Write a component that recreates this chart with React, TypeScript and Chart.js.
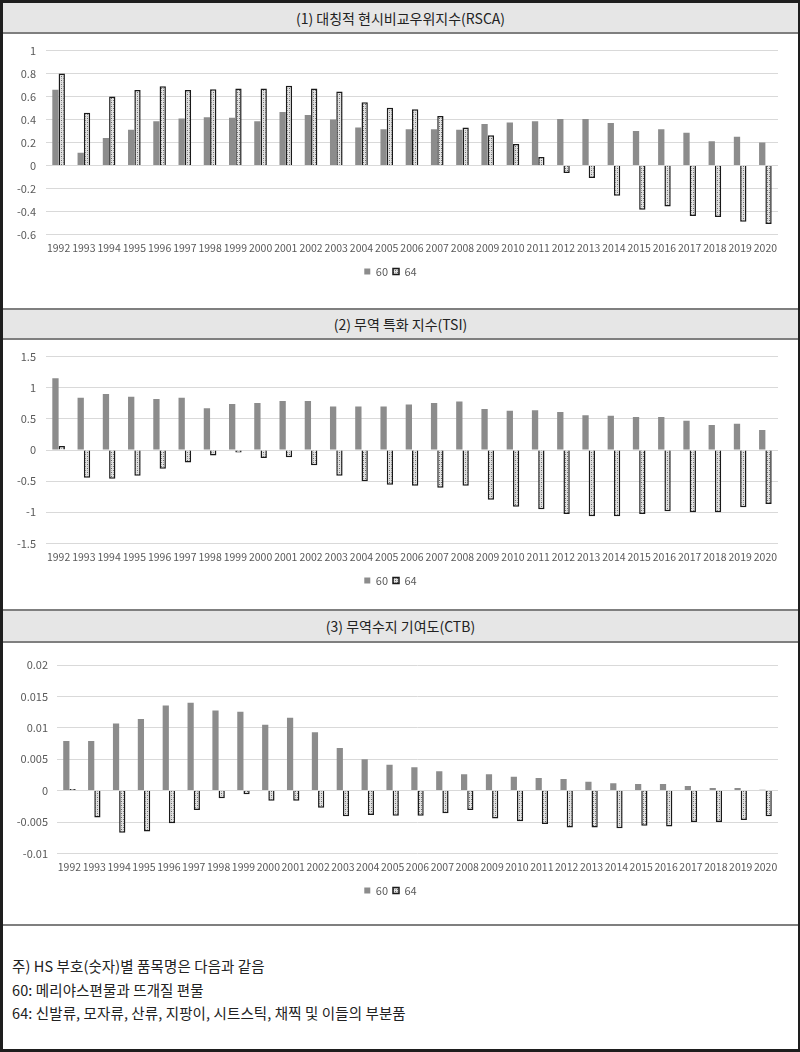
import React, { useEffect, useRef } from 'react';
import { Chart, registerables } from 'chart.js';

Chart.register(...registerables);

const years = [
  '1992', '1993', '1994', '1995', '1996', '1997', '1998', '1999', '2000', '2001',
  '2002', '2003', '2004', '2005', '2006', '2007', '2008', '2009', '2010', '2011',
  '2012', '2013', '2014', '2015', '2016', '2017', '2018', '2019', '2020',
];

const seriesLabels = ['60', '64'];

const rsca60 = [0.66, 0.11, 0.24, 0.31, 0.385, 0.41, 0.42, 0.415, 0.385, 0.465, 0.44, 0.4, 0.33, 0.315, 0.315, 0.315, 0.31, 0.36, 0.375, 0.385, 0.405, 0.405, 0.37, 0.3, 0.315, 0.285, 0.21, 0.25, 0.2];
const rsca64 = [0.8, 0.46, 0.6, 0.657, 0.69, 0.657, 0.663, 0.67, 0.67, 0.694, 0.67, 0.643, 0.55, 0.503, 0.49, 0.43, 0.33, 0.263, 0.186, 0.074, -0.066, -0.11, -0.263, -0.386, -0.357, -0.44, -0.449, -0.49, -0.51];

const tsi60 = [1.154, 0.84, 0.9, 0.856, 0.82, 0.84, 0.67, 0.74, 0.755, 0.787, 0.787, 0.7, 0.7, 0.7, 0.73, 0.755, 0.78, 0.66, 0.63, 0.64, 0.61, 0.56, 0.55, 0.53, 0.53, 0.47, 0.4, 0.42, 0.32];
const tsi64 = [0.064, -0.447, -0.46, -0.415, -0.3, -0.2, -0.09, -0.04, -0.13, -0.117, -0.245, -0.415, -0.5, -0.56, -0.574, -0.606, -0.574, -0.8, -0.91, -0.95, -1.027, -1.064, -1.064, -1.027, -0.984, -1.0, -1.0, -0.92, -0.867];

const ctb60 = [0.0079, 0.0079, 0.0107, 0.0114, 0.01355, 0.014, 0.01275, 0.01254, 0.0105, 0.0116, 0.0093, 0.0068, 0.005, 0.0041, 0.0037, 0.0031, 0.0026, 0.0026, 0.0022, 0.002, 0.00185, 0.0014, 0.00116, 0.00106, 0.00106, 0.00074, 0.0004, 0.0004, 0.00015];
const ctb64 = [0.00026, -0.0043, -0.0067, -0.0065, -0.0052, -0.0031, -0.0012, -0.0006, -0.0016, -0.0016, -0.00275, -0.0041, -0.0039, -0.004, -0.004, -0.0036, -0.0031, -0.00444, -0.00487, -0.0053, -0.00587, -0.00587, -0.006, -0.0056, -0.0057, -0.005, -0.005, -0.0047, -0.0041];

const titles = [
  '(1) 대칭적 현시비교우위지수(RSCA)',
  '(2) 무역 특화 지수(TSI)',
  '(3) 무역수지 기여도(CTB)',
];

const noteLines = [
  '주) HS 부호(숫자)별 품목명은 다음과 같음',
  '60: 메리야스편물과 뜨개질 편물',
  '64: 신발류, 모자류, 산류, 지팡이, 시트스틱, 채찍 및 이들의 부분품',
];

const FONT = '"Noto Sans CJK KR", "Noto Sans", sans-serif';
const TICK_COLOR = '#595959';

function makePattern(): CanvasPattern | string {
  const c = document.createElement('canvas');
  c.width = 4;
  c.height = 4;
  const ctx = c.getContext('2d');
  if (!ctx) return '#c4c4c4';
  ctx.fillStyle = '#e2e2e2';
  ctx.fillRect(0, 0, 4, 4);
  ctx.fillStyle = '#6a6a6a';
  ctx.fillRect(0, 0, 1, 1);
  ctx.fillRect(2, 2, 1, 1);
  ctx.fillStyle = '#a8a8a8';
  ctx.fillRect(2, 0, 1, 1);
  ctx.fillRect(0, 2, 1, 1);
  return ctx.createPattern(c, 'repeat') || '#c4c4c4';
}

const fmt = (v: any) => String(Number(Number(v).toFixed(4)));

type PanelProps = {
  d60: number[];
  d64: number[];
  min: number;
  max: number;
  step: number;
  width: number;
  height: number;
  yWidth: number;
  tickPad: number;
  padTop: number;
  padBottom: number;
};

function BarPanel(p: PanelProps) {
  const ref = useRef<HTMLCanvasElement | null>(null);
  useEffect(() => {
    if (!ref.current) return;
    const pattern = makePattern();
    const chart = new Chart(ref.current, {
      type: 'bar',
      data: {
        labels: years,
        datasets: [
          {
            label: seriesLabels[0],
            data: p.d60,
            backgroundColor: '#8c8c8c',
            borderWidth: 0,
            categoryPercentage: 0.5,
            barPercentage: 1,
          },
          {
            label: seriesLabels[1],
            data: p.d64,
            backgroundColor: pattern as any,
            borderColor: '#1a1a1a',
            borderWidth: 1.5,
            categoryPercentage: 0.5,
            barPercentage: 1,
          },
        ],
      },
      options: {
        responsive: false,
        animation: false,
        layout: { padding: { top: p.padTop, bottom: p.padBottom, left: 0, right: 19 } },
        plugins: {
          legend: {
            position: 'bottom',
            labels: {
              boxWidth: 6,
              boxHeight: 6,
              padding: 5,
              color: TICK_COLOR,
              font: { family: FONT, size: 11 },
            },
          },
          tooltip: { enabled: false },
        },
        scales: {
          x: {
            grid: { display: false, drawTicks: false },
            border: { display: false },
            ticks: {
              autoSkip: false,
              maxRotation: 0,
              minRotation: 0,
              padding: 7,
              color: TICK_COLOR,
              font: { family: FONT, size: 10.5 },
            },
          },
          y: {
            min: p.min,
            max: p.max,
            grid: { color: '#d9d9d9', drawTicks: false },
            border: { display: false },
            ticks: {
              stepSize: p.step,
              padding: p.tickPad,
              color: TICK_COLOR,
              font: { family: FONT, size: 11 },
              callback: fmt,
            },
            afterFit: (s: any) => {
              s.width = p.yWidth;
            },
          },
        },
      },
    });
    return () => chart.destroy();
  }, []);
  return <canvas ref={ref} width={p.width} height={p.height} style={{ display: 'block' }} />;
}

function TitleBar({ text, top, height, topBorder }: { text: string; top: number; height: number; topBorder: boolean }) {
  return (
    <div
      style={{
        position: 'absolute',
        left: 3,
        top,
        width: 795,
        height,
        boxSizing: 'border-box',
        background: '#e6e6e6',
        borderTop: topBorder ? '2px solid #7f7f7f' : 'none',
        borderBottom: '2px solid #7f7f7f',
        display: 'flex',
        alignItems: 'center',
        justifyContent: 'center',
        fontFamily: FONT,
        fontSize: 14,
        color: '#222',
      }}
    >
      {text}
    </div>
  );
}

export default function App() {
  return (
    <div style={{ position: 'absolute', left: 0, top: 0, width: 800, height: 1052, background: '#1e1e1e', overflow: 'hidden' }}>
      <div style={{ position: 'absolute', left: 3, top: 3, width: 795, height: 1046, background: '#ffffff' }} />
      <TitleBar text={titles[0]} top={3} height={31} topBorder={false} />
      <div style={{ position: 'absolute', left: 3, top: 34 }}>
        <BarPanel d60={rsca60} d64={rsca64} min={-0.6} max={1} step={0.2} width={794} height={274} yWidth={43} tickPad={10} padTop={14} padBottom={21} />
      </div>
      <TitleBar text={titles[1]} top={308} height={32} topBorder={true} />
      <div style={{ position: 'absolute', left: 3, top: 340 }}>
        <BarPanel d60={tsi60} d64={tsi64} min={-1.5} max={1.5} step={0.5} width={794} height={270} yWidth={43} tickPad={10} padTop={16} padBottom={14} />
      </div>
      <TitleBar text={titles[2]} top={609} height={34} topBorder={true} />
      <div style={{ position: 'absolute', left: 3, top: 643 }}>
        <BarPanel d60={ctb60} d64={ctb64} min={-0.01} max={0.02} step={0.005} width={794} height={282} yWidth={54} tickPad={9} padTop={22} padBottom={19} />
      </div>
      <div style={{ position: 'absolute', left: 3, top: 924, width: 795, height: 2, background: '#7f7f7f' }} />
      <div
        style={{
          position: 'absolute',
          left: 12,
          top: 954,
          fontFamily: FONT,
          fontSize: 14.5,
          lineHeight: '23.5px',
          color: '#222',
          letterSpacing: '0.1px',
        }}
      >
        {noteLines.map((t, i) => (
          <div key={i}>{t}</div>
        ))}
      </div>
    </div>
  );
}
